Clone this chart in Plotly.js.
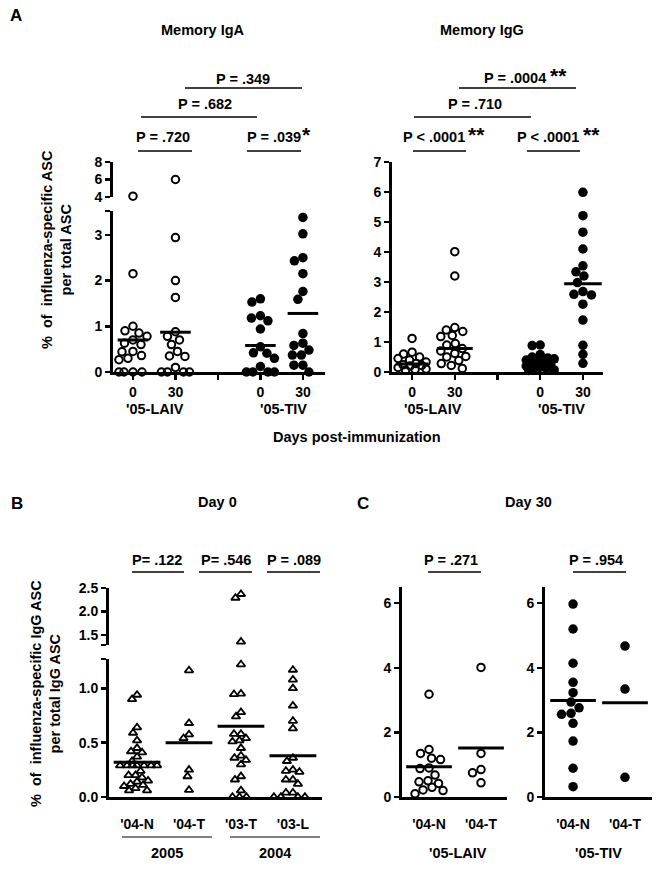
<!DOCTYPE html>
<html><head><meta charset="utf-8">
<script src="https://cdn.plot.ly/plotly-3.0.1.min.js"></script>
<style>html,body{margin:0;padding:0;background:#fff}</style>
</head><body>
<div id="chart" style="width:661px;height:870px"></div>
<script>
// ---------------- DATA ----------------
const dayLabels = ["0", "30"];
const vaccineGroups = ["'05-LAIV", "'05-TIV"];

// Panel A - Memory IgA (% influenza-specific ASC per total ASC)
const igaLaiv0  = [4.1, 2.15, 1.0, 0.9, 0.85, 0.78, 0.7, 0.63, 0.6, 0.45, 0.44, 0.36, 0.3, 0.27, 0, 0, 0, 0];
const igaLaiv30 = [6.0, 2.94, 2.0, 1.63, 0.88, 0.78, 0.7, 0.6, 0.45, 0.35, 0.34, 0.1, 0, 0, 0, 0];
const igaTiv0   = [1.6, 1.53, 1.23, 1.18, 1.12, 0.94, 0.55, 0.42, 0.41, 0.3, 0.12, 0, 0, 0, 0];
const igaTiv30  = [3.38, 3.02, 2.5, 2.43, 2.15, 1.76, 1.59, 0.84, 0.63, 0.58, 0.48, 0.37, 0.37, 0.15, 0.15, 0];
const igaMeans  = [0.70, 0.87, 0.58, 1.28];

// Panel A - Memory IgG
const iggLaiv0  = [1.12, 0.66, 0.6, 0.5, 0.45, 0.4, 0.33, 0.28, 0.24, 0.22, 0.2, 0.15, 0.1, 0.08, 0.06];
const iggLaiv30 = [4.01, 3.2, 1.48, 1.4, 1.35, 1.22, 1.18, 0.95, 0.9, 0.78, 0.7, 0.62, 0.52, 0.5, 0.38, 0.28, 0.22, 0.12];
const iggTiv0   = [0.9, 0.88, 0.58, 0.5, 0.47, 0.44, 0.4, 0.35, 0.3, 0.28, 0.25, 0.2, 0.15, 0.12, 0.1, 0.07, 0.05];
const iggTiv30  = [5.99, 5.21, 4.66, 4.1, 3.54, 3.34, 3.2, 2.98, 2.68, 2.59, 2.57, 2.26, 1.73, 0.89, 0.59, 0.29];
const iggMeans  = [0.27, 0.78, 0.37, 2.94];

// Panel B - Day 0 (% influenza-specific IgG ASC per total IgG ASC)
const day0Cats  = ["'04-N", "'04-T", "'03-T", "'03-L"];
const day0Years = ["2005", "2004"];
const d0_04N = [0.94, 0.9, 0.64, 0.59, 0.52, 0.45, 0.42, 0.41, 0.37, 0.33, 0.29, 0.29, 0.29, 0.29, 0.29, 0.29, 0.29, 0.24, 0.2, 0.2, 0.18, 0.15, 0.14, 0.12, 0.11, 0.1, 0.08, 0.06, 0.06];
const d0_04T = [1.165, 0.68, 0.575, 0.54, 0.25, 0.19, 0.064];
const d0_03T = [2.37, 2.29, 1.36, 1.22, 0.95, 0.945, 0.78, 0.74, 0.58, 0.58, 0.54, 0.52, 0.51, 0.45, 0.38, 0.36, 0.34, 0.3, 0.19, 0.16, 0.06, 0, 0, 0];
const d0_03L = [1.17, 1.08, 1.0, 0.84, 0.7, 0.63, 0.36, 0.33, 0.25, 0.24, 0.23, 0.16, 0.16, 0.12, 0.04, 0.04, 0, 0, 0, 0];
const day0Means = [0.32, 0.50, 0.65, 0.38];

// Panel C - Day 30
const day30Cats = ["'04-N", "'04-T"];
const laiv30_04N = [3.18, 1.47, 1.35, 1.2, 1.16, 0.9, 0.88, 0.68, 0.5, 0.47, 0.42, 0.3, 0.22, 0.2, 0.1];
const laiv30_04T = [4.01, 1.35, 0.85, 0.75, 0.44];
const tiv30_04N  = [5.97, 5.2, 4.14, 3.55, 3.23, 2.94, 2.76, 2.59, 2.56, 2.28, 1.73, 0.89, 0.32];
const tiv30_04T  = [4.67, 3.34, 0.61];
const laiv30Means = [0.94, 1.52];
const tiv30Means  = [2.99, 2.92];

// P values
const pIgA = ["P = .720", "P = .039", "P = .682", "P = .349"];
const pIgG = ["P < .0001", "P < .0001", "P = .710", "P = .0004"];
const pDay0 = ["P= .122", "P= .546", "P = .089"];
const pDay30 = ["P = .271", "P = .954"];

// ---------------- LAYOUT GEOMETRY ----------------
const W = 661, H = 870;
const fx = p => p / W, fy = p => 1 - p / H;
const FONT = "Liberation Sans, Arial, Helvetica, sans-serif";
const FS = 14.5;

const panels = {
  iga: {xa: 'x',  xkey: 'xaxis',  xpx: [113, 325], xr: [0.53, 5.52],
        segs: [{ya: 'y',  key: 'yaxis',  r: [0, 3.52], px: [372, 211], tv: [0,1,2,3,3.52], tt: ['0','1','2','3','']},
               {ya: 'y2', key: 'yaxis2', r: [4, 8],    px: [197, 162], tv: [4,6,8], tt: ['4','6','8']}]},
  igg: {xa: 'x2', xkey: 'xaxis2', xpx: [392, 603], xr: [0.53, 5.47],
        segs: [{ya: 'y3', key: 'yaxis3', r: [0, 7], px: [372, 162], tv: [0,1,2,3,4,5,6,7], tt: ['0','1','2','3','4','5','6','7']}]},
  d0:  {xa: 'x3', xkey: 'xaxis3', xpx: [109, 322], xr: [0.46, 4.56],
        segs: [{ya: 'y4', key: 'yaxis4', r: [0, 1.27],   px: [797, 659], tv: [0,0.5,1.0,1.27], tt: ['0.0','0.5','1.0','']},
               {ya: 'y5', key: 'yaxis5', r: [1.29, 2.5], px: [645, 588], tv: [1.29,1.5,2.0,2.5], tt: ['','1.5','2.0','2.5']}]},
  cL:  {xa: 'x4', xkey: 'xaxis4', xpx: [402, 507], xr: [0.48, 2.5],
        segs: [{ya: 'y6', key: 'yaxis6', r: [0, 6.5], px: [797, 587], tv: [0,2,4,6], tt: ['0','2','4','6']}]},
  cR:  {xa: 'x5', xkey: 'xaxis5', xpx: [545, 652], xr: [0.46, 2.52],
        segs: [{ya: 'y7', key: 'yaxis7', r: [0, 6.5], px: [797, 587], tv: [0,2,4,6], tt: ['0','2','4','6']}]}
};

function segFor(panel, v) {
  for (const s of panel.segs) if (v <= s.r[1] + 1e-9) return s;
  return panel.segs[panel.segs.length - 1];
}
function toPx(seg, v) {
  return seg.px[0] + (v - seg.r[0]) / (seg.r[1] - seg.r[0]) * (seg.px[1] - seg.px[0]);
}
// deterministic beeswarm in pixel space, with a maximum half-width
function swarm(vals, panel, d, maxOff) {
  const pts = vals.map((v, i) => ({v, i, py: toPx(segFor(panel, v), v)}));
  const order = pts.slice().sort((a, b) => a.py - b.py);
  const placed = [], off = new Array(vals.length).fill(0);
  for (const p of order) {
    let best = null, bestScore = -1, bestC = 0;
    const n = Math.floor(maxOff / 0.5) * 2 + 1;
    for (let k = 0; k < n; k++) {
      const c = (k % 2 ? -1 : 1) * Math.ceil(k / 2) * 0.5;
      let md = Infinity;
      for (const q of placed) md = Math.min(md, Math.hypot(q.x - c, q.py - p.py));
      if (md >= d) { best = c; break; }
      if (md > bestScore + 0.01) { bestScore = md; bestC = c; }
    }
    if (best === null) best = bestC;
    placed.push({x: best, py: p.py});
    off[p.i] = best;
  }
  return off;
}

const traces = [];
function addGroup(panel, vals, pos, mean, hw, marker, d, maxOff) {
  const off = swarm(vals, panel, d, maxOff);
  const ppu = (panel.xpx[1] - panel.xpx[0]) / (panel.xr[1] - panel.xr[0]);
  for (const seg of panel.segs) {
    const xs = [], ys = [];
    vals.forEach((v, i) => { if (segFor(panel, v) === seg) { xs.push(pos + off[i] / ppu); ys.push(v); } });
    if (xs.length) traces.push({type: 'scatter', mode: 'markers', x: xs, y: ys, xaxis: panel.xa, yaxis: seg.ya,
      marker: marker, cliponaxis: false, hoverinfo: 'skip', showlegend: false});
  }
  traces.push({type: 'scatter', mode: 'lines', x: [pos - hw, pos + hw], y: [mean, mean], xaxis: panel.xa,
    yaxis: panel.segs[0].ya, line: {color: '#000', width: 3}, cliponaxis: false, hoverinfo: 'skip', showlegend: false});
}
const openC = {symbol: 'circle-open', size: 7.5, color: '#000', line: {width: 2, color: '#000'}};
const fillC = {symbol: 'circle', size: 9.5, color: '#000', line: {width: 0}};
const openT = {symbol: 'triangle-up-open', size: 7.5, color: '#000', line: {width: 1.8, color: '#000'}};

// Panel A
addGroup(panels.iga, igaLaiv0, 1, igaMeans[0], 0.36, openC, 9, 14);
addGroup(panels.iga, igaLaiv30, 2, igaMeans[1], 0.36, openC, 9, 14);
addGroup(panels.iga, igaTiv0, 4, igaMeans[2], 0.36, fillC, 9, 14);
addGroup(panels.iga, igaTiv30, 5, igaMeans[3], 0.36, fillC, 9, 14);
addGroup(panels.igg, iggLaiv0, 1, iggMeans[0], 0.38, openC, 8.5, 14);
addGroup(panels.igg, iggLaiv30, 2, iggMeans[1], 0.42, openC, 8.5, 14);
addGroup(panels.igg, iggTiv0, 4, iggMeans[2], 0.42, fillC, 8, 14);
addGroup(panels.igg, iggTiv30, 5, iggMeans[3], 0.44, fillC, 9, 14);
// Panel B
[d0_04N, d0_04T, d0_03T, d0_03L].forEach((v, i) => addGroup(panels.d0, v, i + 1, day0Means[i], 0.45, openT, 6.6, 20));
// Panel C
addGroup(panels.cL, laiv30_04N, 1, laiv30Means[0], 0.44, openC, 9, 14);
addGroup(panels.cL, laiv30_04T, 2, laiv30Means[1], 0.44, openC, 9, 14);
addGroup(panels.cR, tiv30_04N, 1, tiv30Means[0], 0.44, fillC, 9.5, 14);
addGroup(panels.cR, tiv30_04T, 2, tiv30Means[1], 0.44, fillC, 9.5, 14);

// ---------------- AXES ----------------
const tickfont = {family: FONT, size: 14, color: '#000', weight: 'bold'};
const layout = {
  width: W, height: H, margin: {l: 0, r: 0, t: 0, b: 0},
  paper_bgcolor: '#fff', plot_bgcolor: 'rgba(0,0,0,0)', showlegend: false,
  font: {family: FONT, color: '#000'},
  annotations: [], shapes: []
};
function setX(panel, tickvals, ticktext, withTicks, standoff) {
  layout[panel.xkey] = {domain: [fx(panel.xpx[0]), fx(panel.xpx[1])], range: panel.xr, anchor: panel.segs[0].ya,
    showline: true, linewidth: 3, linecolor: '#000', ticks: withTicks ? 'outside' : '', ticklen: 5, tickwidth: 2.5,
    tickcolor: '#000', tickmode: 'array', tickvals, ticktext, tickfont, ticklabelstandoff: standoff,
    showgrid: false, zeroline: false, fixedrange: true};
  for (const s of panel.segs) {
    layout[s.key] = {domain: [fy(s.px[0]), fy(s.px[1])], range: s.r, anchor: panel.xa,
      showline: true, linewidth: 3, linecolor: '#000', ticks: 'outside', ticklen: 5, tickwidth: 2.5, tickcolor: '#000',
      tickmode: 'array', tickvals: s.tv, ticktext: s.tt, tickfont, showgrid: false, zeroline: false, fixedrange: true};
  }
}
setX(panels.iga, [1,2,3,4,5], [dayLabels[0], dayLabels[1], '', dayLabels[0], dayLabels[1]], true, 0);
setX(panels.igg, [1,2,3,4,5], [dayLabels[0], dayLabels[1], '', dayLabels[0], dayLabels[1]], true, 0);
setX(panels.d0, [1,2,3,4], day0Cats, false, 12);
setX(panels.cL, [1,2], day30Cats, false, 12);
setX(panels.cR, [1,2], day30Cats, false, 12);

// ---------------- TEXT & BRACKETS ----------------
function txt(text, x, y, size, extra) {
  layout.annotations.push(Object.assign({text: '<b>' + text + '</b>', x: fx(x), y: fy(y), xref: 'paper', yref: 'paper',
    showarrow: false, xanchor: 'center', yanchor: 'middle', font: {family: FONT, size: size, color: '#000'}}, extra || {}));
}
function hline(x0, x1, y, w) {
  layout.shapes.push({type: 'line', xref: 'paper', yref: 'paper', x0: fx(x0), x1: fx(x1), y0: fy(y), y1: fy(y),
    line: {color: '#000', width: w || 1.5}});
}
const NB = '\u00a0';
// Panel letters & titles
txt('A', 16, 15, 17);
txt('B', 17, 503, 17);
txt('C', 363, 503, 17);
txt('Memory IgA', 203, 30, FS);
txt('Memory IgG', 482, 30, FS);
txt('Day 0', 217, 502, FS);
txt('Day 30', 528, 502, FS);
txt('Days post-immunization', 357, 437, FS);
txt('%' + NB + ' of' + NB + ' influenza-specific ASC<br>per total ASC', 57, 250, FS, {textangle: -90});
txt('%' + NB + ' of' + NB + ' influenza-specific IgG ASC<br>per total IgG ASC', 45, 694, FS, {textangle: -90});
// group labels
txt(vaccineGroups[0], 155, 409, FS); txt(vaccineGroups[1], 283, 409, FS);
txt(vaccineGroups[0], 433, 409, FS); txt(vaccineGroups[1], 561, 409, FS);
txt(vaccineGroups[0], 458, 853, FS); txt(vaccineGroups[1], 598, 853, FS);
txt(day0Years[0], 167, 853, FS); txt(day0Years[1], 275, 853, FS);
hline(122, 212, 837, 1); hline(230, 320, 837, 1);
// IgA brackets
txt(pIgA[0], 163, 137, FS); hline(138, 192, 151);
txt(pIgA[1], 274, 137, FS); hline(247, 301, 151);
txt('*', 306, 134, 21);
txt(pIgA[2], 205, 104, FS); hline(141, 257, 117);
txt(pIgA[3], 243, 79, FS);  hline(185, 302, 88);
// IgG brackets
txt(pIgG[0], 434, 137, FS); hline(413, 466, 151);
txt('**', 477, 134, 21);
txt(pIgG[1], 548, 137, FS); hline(527, 580, 151);
txt('**', 591, 134, 21);
txt(pIgG[2], 475, 104, FS); hline(414, 531, 117);
txt(pIgG[3], 515, 78, FS);  hline(459, 576, 88);
txt('**', 558, 75, 21);
// Day 0 brackets
txt(pDay0[0], 157, 560, FS); hline(132, 184, 572);
txt(pDay0[1], 226, 560, FS); hline(199, 252, 572);
txt(pDay0[2], 294, 560, FS); hline(267, 320, 572);
// Day 30 brackets
txt(pDay30[0], 451, 560, FS); hline(428, 481, 572);
txt(pDay30[1], 596, 560, FS); hline(573, 626, 572);

Plotly.newPlot('chart', traces, layout, {staticPlot: true, displayModeBar: false});
</script>
</body></html>
